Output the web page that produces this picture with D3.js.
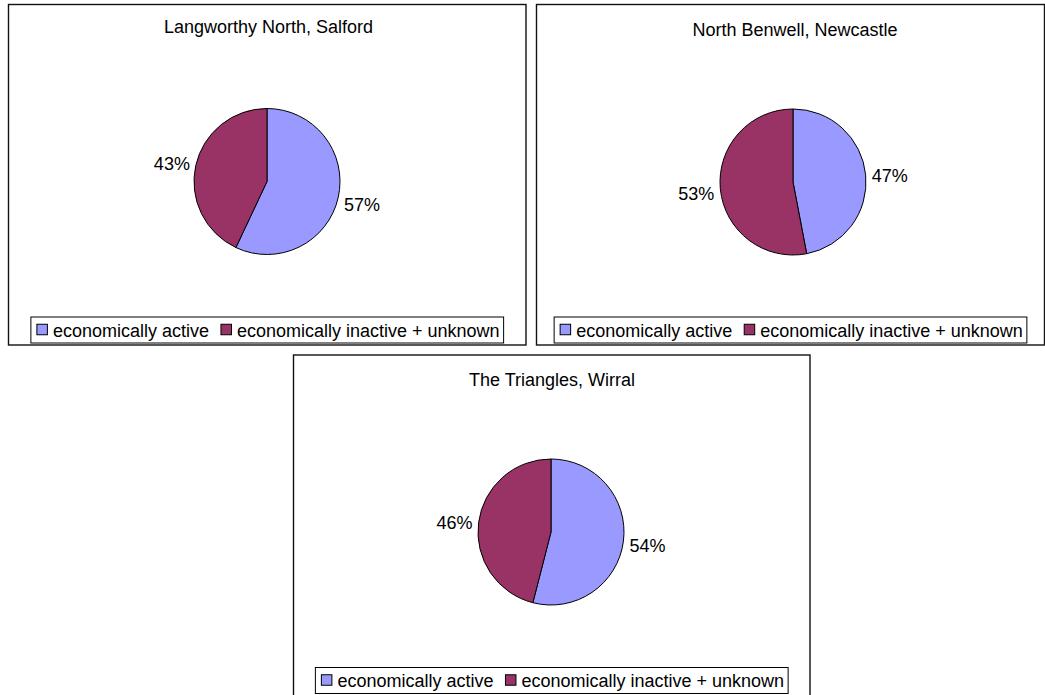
<!DOCTYPE html>
<html>
<head>
<meta charset="utf-8">
<script src="https://cdn.jsdelivr.net/npm/d3@7/dist/d3.min.js"></script>
<style>
  html, body { margin: 0; padding: 0; background: #fff; }
  svg { display: block; }
  text { font-family: "Liberation Sans", Arial, sans-serif; fill: #000; }
</style>
</head>
<body>
<svg id="chart" width="1045" height="695"></svg>
<script>
// ---- data ----
const titles = ["Langworthy North, Salford", "North Benwell, Newcastle", "The Triangles, Wirral"];
const categories = ["economically active", "economically inactive + unknown"];
const activeValues = [57, 47, 54];
const inactiveValues = [43, 53, 46];
const colors = ["#9999FF", "#993366"];

// ---- layout (positions only) ----
const panels = [
  { x: 8.5,   y: 4.5,  w: 517.5, h: 340.5, cx: 267, cy: 181.5, titleX: 268.5, titleY: 33 },
  { x: 536.5, y: 4.5,  w: 508,   h: 340.5, cx: 793, cy: 182,   titleX: 795,   titleY: 36 },
  { x: 293.5, y: 355,  w: 516.5, h: 341,   cx: 551, cy: 532,   titleX: 552,   titleY: 386 }
];
const radius = 73;
const fontSize = 18;

const svg = d3.select("#chart");
const color = d3.scaleOrdinal().domain(categories).range(colors);
const pie = d3.pie().sort(null).value(d => d.value);
const arc = d3.arc().innerRadius(0).outerRadius(radius);

titles.forEach((title, i) => {
  const p = panels[i];
  const g = svg.append("g");
  g.append("rect")
    .attr("x", p.x).attr("y", p.y).attr("width", p.w).attr("height", p.h)
    .attr("fill", "#fff").attr("stroke", "#111").attr("stroke-width", 1.4);

  g.append("text")
    .attr("x", p.titleX).attr("y", p.titleY)
    .attr("text-anchor", "middle")
    .style("font-size", "18px")
    .text(title);

  const data = categories.map((c, k) => ({ cat: c, value: k === 0 ? activeValues[i] : inactiveValues[i] }));
  const arcs = pie(data);
  const pg = g.append("g").attr("transform", `translate(${p.cx},${p.cy})`);
  pg.selectAll("path").data(arcs).join("path")
    .attr("d", arc)
    .attr("fill", d => color(d.data.cat))
    .attr("stroke", "#000").attr("stroke-width", 1);

  pg.selectAll("text.lbl").data(arcs).join("text")
    .attr("class", "lbl")
    .attr("transform", d => {
      const a = (d.startAngle + d.endAngle) / 2;
      const lx = (radius + 6) * Math.sin(a);
      const ly = -93 * Math.cos(a) + 4;
      return `translate(${lx},${ly})`;
    })
    .attr("text-anchor", d => ((d.startAngle + d.endAngle) / 2 < Math.PI ? "start" : "end"))
    .attr("dominant-baseline", "middle")
    .style("font-size", fontSize + "px")
    .text(d => d.data.value + "%");

  // legend
  const lg = g.append("g");
  const box = lg.append("rect").attr("fill", "#fff").attr("stroke", "#000").attr("stroke-width", 1);
  const items = lg.selectAll("g.item").data(categories).join("g").attr("class", "item");
  const sw = 10.5;
  items.append("rect").attr("width", sw).attr("height", sw)
    .attr("fill", d => color(d)).attr("stroke", "#000").attr("stroke-width", 1);
  items.append("text").style("font-size", fontSize + "px").text(d => d);
  let cursor = 6;
  items.each(function (d) {
    const t = d3.select(this).select("text");
    const w = t.node().getComputedTextLength();
    d3.select(this).select("rect").attr("x", cursor).attr("y", -sw / 2 - 0.5);
    t.attr("x", cursor + sw + 5.5).attr("y", 6.5);
    cursor += sw + 5.5 + w + 12;
  });
  const totalW = cursor - 12 + 4;
  const boxH = 26;
  const lx = p.x + p.w / 2 - totalW / 2;
  const ly = p.y + 312.5;
  box.attr("x", 0).attr("y", -boxH / 2).attr("width", totalW).attr("height", boxH);
  lg.attr("transform", `translate(${lx},${ly + boxH / 2})`);
});
</script>
</body>
</html>
